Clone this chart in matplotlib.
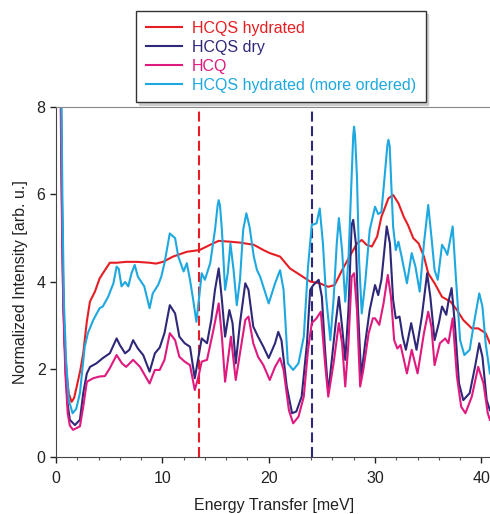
import numpy as np
import matplotlib.pyplot as plt
from matplotlib.ticker import MultipleLocator

plt.rcParams['font.family'] = ['Liberation Sans', 'DejaVu Sans']

# HCQS hydrated
red_x = [0.30, 0.45, 0.55, 0.65, 0.8, 1.0, 1.2, 1.47, 1.7, 1.94, 2.3, 2.56, 2.9, 3.19,
         3.66, 4.1, 4.6, 5.06, 5.7, 6.6, 7.6, 8.8, 9.4, 10.06, 11.0, 12.3, 13.5, 14.5,
         15.3, 16.4, 17.3, 18.6, 19.5, 20.1, 21.07, 22.0, 22.96, 23.9, 24.8, 25.6, 26.2,
         26.9, 27.6, 28.3, 28.75, 29.2, 29.7, 30.2, 30.6, 31.26, 31.7, 32.2, 32.7, 33.1,
         33.6, 34.1, 34.6, 35.0, 35.6, 36.3, 37.1, 37.7, 38.3, 39.1, 39.7, 40.4, 40.8]
red_y = [12, 8.5, 6.0, 4.0, 2.6, 1.9, 1.45, 1.26, 1.35, 1.6, 2.0, 2.37, 3.1, 3.55,
         3.78, 4.08, 4.27, 4.44, 4.44, 4.46, 4.46, 4.44, 4.42, 4.46, 4.58, 4.69, 4.73, 4.85,
         4.94, 4.92, 4.9, 4.85, 4.73, 4.66, 4.58, 4.31, 4.16, 4.01, 3.97, 3.89, 3.93,
         4.27, 4.58, 4.88, 4.96, 4.85, 4.81, 5.04, 5.49, 5.91, 5.99, 5.8, 5.49, 5.3,
         5.0, 4.88, 4.58, 4.2, 3.97, 3.66, 3.55, 3.36, 3.13, 2.94, 2.94, 2.83, 2.6]

# HCQS dry
navy_x = [0.3, 0.45, 0.58, 0.7, 0.9, 1.1, 1.3, 1.78, 2.25, 2.56, 2.9, 3.2, 3.8, 4.4, 5.06,
          5.7, 6.0, 6.5, 6.9, 7.25, 7.7, 8.2, 8.8, 9.3, 9.75, 10.2, 10.7, 11.2, 11.6, 12.1,
          12.6, 13.05, 13.4, 13.7, 14.2, 14.6, 14.95, 15.3, 15.6, 15.9, 16.3, 16.6, 16.9,
          17.3, 17.8, 18.1, 18.55, 19.0, 19.5, 20.0, 20.6, 20.9, 21.2, 21.7, 22.2, 22.6,
          23.1, 23.6, 23.9, 24.2, 24.7, 25.0, 25.3, 25.6, 25.9, 26.3, 26.6, 26.9, 27.2,
          27.5, 27.8, 27.95, 28.2, 28.4, 28.7, 29.07, 29.5, 30.0, 30.3, 30.6, 31.1, 31.4,
          31.7, 31.95, 32.3, 32.6, 32.9, 33.4, 33.9, 34.4, 34.9, 35.2, 35.6, 36.0, 36.3,
          36.7, 36.9, 37.2, 37.5, 37.9, 38.3, 38.9, 39.4, 39.8, 40.1, 40.5, 40.8]
navy_y = [12, 8.5, 5.5, 3.5, 2.0, 1.2, 0.85, 0.73, 0.85, 1.46, 1.91, 2.06, 2.14, 2.26, 2.37,
          2.71, 2.56, 2.37, 2.45, 2.67, 2.48, 2.33, 1.95, 2.37, 2.5, 2.83, 3.47, 3.28, 2.75, 2.6,
          2.52, 1.8, 2.29, 2.71, 2.6, 3.13, 3.82, 4.31, 3.59, 2.75, 3.36, 3.06, 2.14,
          3.06, 3.97, 3.82, 2.98, 2.75, 2.52, 2.26, 2.6, 2.86, 2.67, 1.61, 1.0, 1.04,
          1.38, 2.6, 3.82, 3.93, 4.05, 3.66, 2.45, 1.46, 2.14, 3.06, 3.66, 2.98, 2.22,
          3.36, 5.3, 5.42, 4.88, 3.36, 1.84, 2.6, 3.36, 3.93, 3.7, 4.05, 5.27, 4.88,
          3.59, 3.17, 3.21, 2.75, 2.45, 3.06, 2.45, 3.21, 4.2, 3.66, 2.67, 3.06, 3.44,
          3.25, 3.55, 3.86, 3.06, 1.68, 1.3, 1.46, 2.06, 2.6, 2.29, 1.3, 1.07]

# HCQ
mag_x = [0.28, 0.42, 0.55, 0.68, 0.88, 1.1, 1.3, 1.6, 2.25, 2.56, 2.9, 3.5, 4.1, 4.6, 5.06,
         5.7, 6.2, 6.6, 7.25, 7.9, 8.8, 9.3, 9.75, 10.2, 10.7, 11.2, 11.6, 12.1, 12.6,
         13.05, 13.4, 13.7, 14.2, 14.8, 15.3, 15.6, 15.9, 16.45, 16.9, 17.3, 17.8, 18.1,
         18.55, 19.0, 19.5, 20.1, 20.6, 21.07, 21.4, 21.9, 22.3, 22.8, 23.3, 23.7, 24.05,
         24.5, 24.9, 25.3, 25.6, 26.1, 26.6, 26.9, 27.2, 27.5, 27.8, 28.03, 28.3, 28.6,
         28.9, 29.4, 29.8, 30.0, 30.4, 30.8, 31.2, 31.5, 31.8, 32.1, 32.4, 33.0, 33.45,
         34.0, 34.6, 35.0, 35.3, 35.6, 36.1, 36.6, 36.9, 37.3, 37.7, 38.1, 38.5, 39.1,
         39.7, 40.2, 40.6, 40.8]
mag_y = [12, 8.5, 5.5, 3.5, 1.9, 1.0, 0.72, 0.62, 0.7, 1.15, 1.72, 1.8, 1.84, 1.85, 2.03,
         2.33, 2.14, 2.06, 2.22, 2.06, 1.68, 1.99, 1.99, 2.22, 2.83, 2.67, 2.29, 2.18, 2.1,
         1.53, 1.84, 2.18, 2.22, 2.9, 3.51, 2.75, 1.72, 2.75, 1.76, 2.37, 3.13, 3.21,
         2.6, 2.29, 2.1, 1.76, 2.06, 2.26, 1.99, 1.07, 0.77, 0.92, 1.38, 2.45, 3.06,
         3.17, 3.32, 2.14, 1.38, 2.14, 3.06, 2.6, 1.61, 2.6, 4.12, 4.2, 3.36, 1.61,
         1.99, 2.83, 3.17, 3.17, 3.02, 3.51, 4.16, 3.66, 2.67, 2.48, 2.56, 1.91, 2.45,
         1.91, 2.83, 3.32, 2.98, 2.1, 2.6, 2.71, 2.6, 3.17, 1.84, 1.15, 1.0, 1.38,
         2.06, 1.68, 1.0, 0.85]

# HCQS hydrated (more ordered)
blue_x = [0.35, 0.5, 0.62, 0.75, 0.95, 1.2, 1.56, 1.9, 2.25, 2.7, 3.0, 3.5, 4.1, 4.4, 4.9,
          5.4, 5.7, 5.9, 6.16, 6.5, 6.8, 7.1, 7.4, 7.7, 8.3, 8.8, 9.1, 9.6, 9.9, 10.2,
          10.7, 11.2, 11.5, 12.0, 12.3, 12.6, 12.9, 13.2, 13.5, 13.7, 14.0, 14.5, 14.95,
          15.2, 15.3, 15.42, 15.6, 15.9, 16.15, 16.4, 16.7, 17.0, 17.3, 17.6, 17.9, 18.2,
          18.6, 18.9, 19.2, 19.5, 20.0, 20.6, 21.07, 21.4, 21.8, 22.3, 22.8, 23.3, 23.7,
          24.05, 24.5, 24.8, 25.1, 25.4, 25.8, 26.1, 26.4, 26.6, 26.9, 27.2, 27.5, 27.8,
          27.95, 28.03, 28.12, 28.3, 28.5, 28.75, 29.07, 29.5, 30.0, 30.3, 30.6, 30.9,
          31.15, 31.26, 31.38, 31.5, 31.7, 31.95, 32.2, 32.5, 33.0, 33.45, 33.8, 34.2,
          34.6, 35.0, 35.3, 35.6, 35.9, 36.3, 36.6, 36.8, 37.3, 37.6, 38.0, 38.4, 38.9,
          39.3, 39.8, 40.1, 40.4, 40.8]
blue_y = [12, 8.5, 5.5, 3.5, 2.2, 1.3, 1.0, 1.1, 1.46, 2.52, 2.83, 3.13, 3.4, 3.44, 3.66,
          3.97, 4.35, 4.3, 3.9, 4.0, 3.9, 4.2, 4.39, 4.12, 3.9, 3.4, 3.74, 3.93, 4.12, 4.43,
          5.11, 5.0, 4.58, 4.24, 4.43, 4.05, 3.59, 3.09, 3.74, 4.2, 4.05, 4.43, 5.19,
          5.75, 5.87, 5.75, 5.19, 3.82, 4.2, 4.88, 4.27, 3.47, 4.05, 5.19, 5.57, 5.26,
          4.58, 4.27, 4.12, 3.89, 3.51, 3.97, 4.27, 3.82, 2.14, 1.99, 2.14, 2.75, 4.35,
          5.3, 5.34, 5.68, 4.88, 3.66, 2.67, 3.6, 4.88, 5.46, 4.73, 3.55, 4.5, 6.41,
          7.35, 7.55, 7.35, 6.41, 4.5, 3.28, 3.97, 5.19, 5.72, 5.55, 5.6, 6.4,
          7.1, 7.25, 7.1, 6.4, 5.27, 4.73, 4.92, 4.58, 3.97, 4.66, 4.35, 3.78,
          4.88, 5.76, 5.04, 4.27, 4.05, 4.85, 4.73, 4.62, 5.27, 4.12, 2.67, 2.33, 2.45,
          3.06, 3.74, 3.44, 2.6, 1.91]

labels = ['HCQS hydrated', 'HCQS dry', 'HCQ', 'HCQS hydrated (more ordered)']
colors = ['#e61e23', '#2e2878', '#e0197f', '#1ea8e0']
marker_lines = [13.45, 24.08]

fig = plt.figure(figsize=(4.9, 5.14), dpi=100)
ax = fig.add_axes([0.1143, 0.1109, 0.8898, 0.681])

ax.axvline(marker_lines[0], color=colors[0], lw=1.5, ls=(0, (4.8, 2.2)), zorder=1)
ax.axvline(marker_lines[1], color=colors[1], lw=1.5, ls=(0, (4.8, 2.2)), zorder=1)

series = [(red_x, red_y), (navy_x, navy_y), (mag_x, mag_y), (blue_x, blue_y)]
for (xs, ys), lab, c in zip(series, labels, colors):
    ax.plot(xs, ys, color=c, lw=1.5, label=lab, zorder=2, solid_joinstyle='round')

ax.set_xlim(0, 41)
ax.set_ylim(0, 8)
ax.xaxis.set_major_locator(MultipleLocator(10))
ax.xaxis.set_minor_locator(MultipleLocator(2))
ax.yaxis.set_major_locator(MultipleLocator(2))
ax.tick_params(which='major', direction='out', length=4, width=1, labelsize=11.5, colors='#222222')
ax.tick_params(which='minor', direction='out', length=2.5, width=0.8, colors='#555555')
ax.tick_params(axis='x', pad=6)
for s in ['left', 'bottom']:
    ax.spines[s].set_color('#444444')
ax.spines['top'].set_color('#888888')
ax.spines['right'].set_visible(False)

ax.set_xlabel('Energy Transfer [meV]', fontsize=11.5, color='#222222', labelpad=9)
ax.set_ylabel('Normalized Intensity [arb. u.]', fontsize=11.5, color='#222222', labelpad=6)

leg = fig.legend(loc='upper left', bbox_to_anchor=(0.2776, 0.9786), borderaxespad=0,
                 fontsize=11.5, labelcolor='linecolor', handlelength=2.3, handletextpad=0.6,
                 labelspacing=0.25, borderpad=0.6, fancybox=False, framealpha=1,
                 edgecolor='#333333', shadow={'color': '#cccccc', 'alpha': 1})
leg.get_frame().set_linewidth(1.0)

fig.savefig('out.png', dpi=100)
